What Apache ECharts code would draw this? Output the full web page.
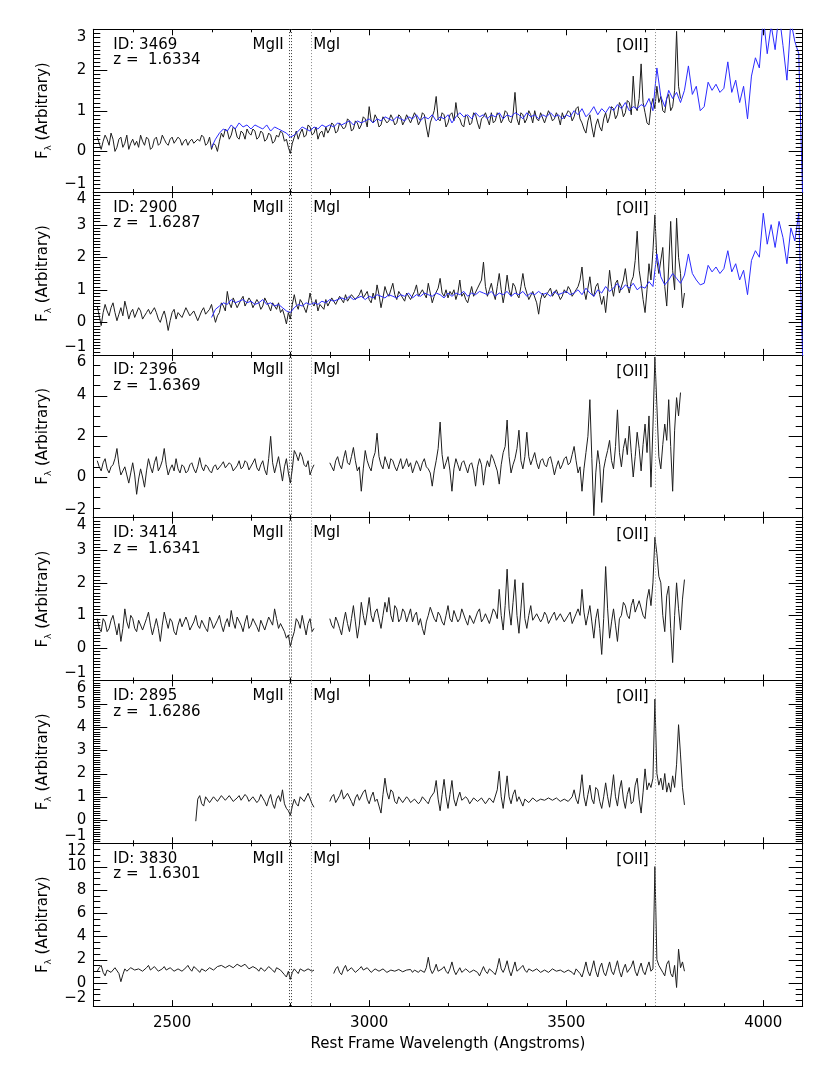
<!DOCTYPE html>
<html><head><meta charset="utf-8">
<script src="https://cdn.jsdelivr.net/npm/echarts@6/dist/echarts.min.js"></script>
<style>html,body{margin:0;padding:0;background:#fff}#c{width:830px;height:1066px}</style>
</head><body><div id="c"></div><script>
// ---------------- data ----------------
const BLACK_STEP = 5;    // sampling step of the galaxy spectra (Angstrom)
const BLUE_STEP = 10;    // sampling step of the template (Angstrom)
const panelIds = ['3469', '2900', '2396', '3414', '2895', '3830'];
const panelZ = ['1.6334', '1.6287', '1.6369', '1.6341', '1.6286', '1.6301'];
const yMin = [-1, -1, -2, -1, -1, -2];
const yMax = [3, 4, 6, 4, 6, 12];
const yStep = [1, 1, 2, 1, 1, 2];
const yMinorSplit = [10, 10, 4, 10, 10, 4];
const lineWl = [2796, 2803, 2852, 3727];  // MgII doublet, MgI, [OII]
const xTickLabels = [2500, 3000, 3500, 4000];

// Panel 1 (ID 3469)
const p1BlackStart = 2310;
const p1Black = [
0.35,0.2,0.05,0.25,0.4,0.3,0.15,0.45,0.3,0.0,0.1,0.3,0.35,0.1,0.2,0.4,0.05,0.2,0.3,0.15,
0.25,0.1,0.4,0.25,0.15,0.35,0.3,0.05,0.1,0.3,0.35,0.15,0.2,0.4,0.3,0.2,0.15,0.3,0.35,0.2,
0.2,0.35,0.3,0.15,0.25,0.3,0.15,0.25,0.3,0.2,0.2,0.3,0.25,0.4,0.35,0.15,0.2,0.35,0.05,0.2,
0.15,0.0,0.25,0.45,0.35,0.55,0.5,0.3,0.4,0.6,0.55,0.35,0.3,0.5,0.45,0.3,0.55,0.45,0.4,0.55,
0.5,0.3,0.35,0.5,0.45,0.25,0.3,0.45,0.4,0.2,0.25,0.4,0.35,0.5,0.45,0.25,0.3,0.1,-0.05,0.2,
0.35,0.5,0.3,0.45,0.55,0.35,0.4,0.65,0.6,0.4,0.45,0.6,0.3,0.45,0.5,0.35,0.6,0.45,0.55,0.7,
0.65,0.45,0.5,0.7,0.7,0.55,0.6,0.8,0.75,0.5,0.55,0.75,0.7,0.55,0.65,0.85,0.8,0.6,1.1,0.75,
0.7,0.9,0.8,0.6,0.65,0.85,0.85,0.7,0.75,0.9,0.8,0.65,0.7,0.9,0.85,0.65,0.75,0.9,0.8,0.7,
0.7,0.95,0.85,0.65,0.75,0.95,0.9,0.6,0.35,0.7,0.85,1.0,1.35,0.8,0.75,0.95,0.9,0.6,0.7,0.9,
0.95,0.75,1.2,0.85,0.8,0.65,0.6,0.9,0.85,0.65,0.7,0.95,0.9,0.7,0.55,0.8,0.85,0.95,0.8,0.65,
0.95,0.7,0.75,0.95,0.9,0.7,0.8,1.0,0.95,0.75,0.7,0.9,1.45,0.8,0.65,0.95,0.9,0.7,0.8,1.0,
0.9,0.7,1.0,0.8,0.75,0.95,0.95,0.7,0.85,1.0,0.9,0.75,0.8,0.95,0.85,0.65,0.95,0.8,0.8,1.0,
0.95,0.75,0.85,1.05,1.1,0.8,0.7,0.55,0.45,0.75,0.9,0.6,0.35,0.65,0.8,0.6,0.5,0.8,0.95,0.7,
0.85,1.1,1.05,0.8,0.9,1.2,1.1,0.85,0.95,1.25,1.2,0.9,1.85,1.1,1.0,1.3,2.15,1.2,0.95,0.7,
0.65,1.1,1.3,1.05,1.6,1.2,1.35,1.0,0.95,1.3,1.4,1.0,1.1,1.5,2.95,1.6,1.3];
const p1BlueStart = 2600;
const p1Blue = [
0.1,0.3,0.45,0.55,0.5,0.65,0.55,0.7,0.6,0.65,
0.55,0.65,0.6,0.55,0.65,0.5,0.6,0.55,0.5,0.45,
0.35,0.4,0.5,0.6,0.55,0.5,0.6,0.55,0.65,0.6,
0.65,0.6,0.7,0.65,0.7,0.75,0.65,0.75,0.7,0.75,
0.8,0.7,0.8,0.75,0.85,0.8,0.75,0.85,0.8,0.75,
0.85,0.8,0.9,0.75,0.85,0.8,0.9,0.75,0.85,0.8,
0.9,0.7,0.85,0.95,0.85,0.9,0.8,0.95,0.85,0.9,
0.8,0.9,0.85,0.95,0.8,0.9,0.85,0.95,0.9,0.8,
0.95,0.85,0.9,0.8,0.9,0.85,0.95,0.85,0.9,0.8,
0.9,0.85,1.0,0.9,1.05,0.85,0.95,1.1,0.9,1.05,
0.95,1.1,1.0,1.15,1.05,1.2,1.0,1.1,1.05,1.15,
1.1,1.3,1.0,2.05,1.35,1.1,1.5,1.3,1.45,1.2,
1.5,2.1,1.4,1.6,1.0,1.1,1.7,1.5,1.65,1.45,
1.55,2.2,1.45,1.75,1.2,1.6,0.8,1.85,2.3,2.05,
3.3,2.4,3.1,2.5,3.4,2.6,1.75,3.2,2.7,2.4,-1.2];

// Panel 2 (ID 2900)
const p2BlackStart = 2310;
const p2Black = [
0.5,0.2,-0.1,0.3,0.55,0.35,0.2,0.45,0.6,0.3,0.05,0.25,0.45,0.2,0.65,0.4,0.1,0.3,0.4,0.15,
0.15,0.45,0.35,0.1,0.05,0.3,0.4,0.25,0.2,0.45,0.3,0.1,0.0,0.2,0.35,0.1,-0.25,0.05,0.3,0.4,
0.1,0.3,0.35,0.15,0.2,0.45,0.4,0.2,0.15,0.35,0.3,0.05,0.1,0.35,0.45,0.25,0.2,0.4,0.55,0.25,
0.0,0.2,0.3,0.6,0.5,0.35,0.95,0.6,0.45,0.75,0.7,0.45,0.5,0.7,0.8,0.5,0.55,0.75,0.65,0.45,
0.45,0.7,0.6,0.4,0.5,0.75,0.7,0.5,0.35,0.6,0.55,0.4,0.6,0.3,0.4,0.2,-0.05,0.3,0.1,0.55,
0.85,0.55,0.4,0.7,0.6,0.45,0.3,0.55,0.9,0.6,0.5,0.7,0.35,0.55,0.6,0.4,0.7,0.5,0.55,0.75,
0.7,0.55,0.5,0.8,0.75,0.6,0.85,0.65,0.6,0.85,0.9,0.7,0.65,0.85,1.0,0.75,0.8,0.95,0.7,0.6,
0.9,0.7,1.15,0.85,0.45,0.75,1.1,0.9,0.8,1.0,1.2,0.85,0.7,0.95,0.95,0.75,0.65,0.9,0.85,0.7,
0.7,0.95,1.15,0.8,0.75,1.0,0.95,0.75,1.2,0.9,0.6,0.8,0.85,1.05,1.35,0.9,0.8,1.0,0.75,0.95,
0.85,1.0,0.7,0.9,1.3,0.8,0.9,0.7,0.6,0.85,1.1,0.8,0.75,1.05,1.0,1.3,1.85,1.1,0.8,1.0,
1.2,0.9,0.7,1.1,1.5,1.0,0.6,0.95,1.45,1.0,0.8,1.2,1.1,0.85,0.75,1.1,1.5,1.1,0.9,0.7,
0.7,0.95,1.0,0.6,0.25,0.7,0.9,0.75,0.8,0.95,1.05,0.8,0.85,1.0,0.95,0.7,0.8,1.0,0.9,1.1,
1.0,0.8,0.75,1.0,1.1,1.3,1.7,1.0,0.7,1.05,1.4,0.9,0.8,1.1,1.2,0.85,0.55,0.8,0.3,0.9,
1.6,1.1,0.8,1.2,1.3,0.9,0.95,1.3,1.65,1.15,0.9,1.25,1.4,1.9,2.8,1.6,1.2,0.7,0.3,1.0,
1.8,1.3,2.2,3.3,1.9,1.5,1.5,2.3,1.1,0.5,1.7,3.1,1.6,1.0,3.2,2.0,1.5,0.45,0.9];
const p2BlueStart = 2600;
const p2Blue = [
0.15,0.4,0.5,0.6,0.55,0.7,0.6,0.65,0.7,0.6,
0.65,0.55,0.6,0.7,0.55,0.6,0.5,0.55,0.45,0.35,
0.3,0.45,0.55,0.5,0.6,0.55,0.6,0.55,0.65,0.6,
0.7,0.65,0.7,0.75,0.7,0.8,0.7,0.75,0.8,0.7,
0.8,0.75,0.85,0.8,0.75,0.85,0.8,0.75,0.85,0.8,
0.9,0.75,0.85,0.8,0.9,0.85,0.8,0.9,0.85,0.75,
0.9,0.8,0.9,0.85,0.95,0.8,0.9,0.85,0.95,0.9,
0.85,0.95,0.8,0.9,0.85,0.95,0.8,0.9,0.85,0.95,
0.8,0.9,0.85,0.95,0.85,0.9,0.8,0.95,0.85,0.9,
0.95,0.85,0.9,1.0,0.85,1.05,0.9,0.8,1.0,0.9,
1.1,0.95,1.05,1.2,1.0,1.15,1.05,1.2,1.0,1.1,
1.05,1.25,1.1,2.1,1.4,1.15,1.3,1.5,1.35,1.2,
1.45,2.1,1.5,1.3,1.15,1.2,1.75,1.55,1.7,1.5,
1.65,2.2,1.55,1.8,1.3,1.6,0.85,1.9,2.2,2.0,
3.35,2.4,3.0,2.3,3.1,2.6,1.8,2.9,2.5,3.35,-1.2];

// Panel 3 (ID 2396)
const p3aStart = 2310;
const p3a = [
0.8,0.5,0.3,0.7,0.9,0.4,0.2,0.5,0.6,0.9,1.4,0.6,0.1,0.3,0.5,0.1,-0.3,0.2,0.7,0.1,
-0.85,-0.1,0.4,0.0,-0.5,0.3,0.9,0.5,0.2,0.7,1.0,0.3,0.5,0.8,1.4,0.6,0.1,0.4,0.6,0.3,
0.9,0.4,0.2,0.6,0.5,0.2,0.3,0.6,0.7,0.4,0.2,0.5,0.95,0.5,0.3,0.6,0.5,0.3,0.2,0.5,
0.6,0.35,0.3,0.6,0.75,0.45,0.4,0.7,0.6,0.3,0.3,0.55,0.8,0.4,0.5,0.8,0.7,0.35,0.4,0.7,
0.9,0.45,0.3,0.6,0.8,0.35,0.1,0.9,2.0,0.7,0.2,0.6,1.0,0.4,-0.2,0.5,0.9,0.2,-0.3,0.4,
1.3,1.1,0.8,1.2,1.0,0.6,0.5,0.8,0.1,0.4,0.6];
const p3bStart = 2900;
const p3b = [
0.7,0.5,0.3,0.8,1.0,0.6,0.4,0.9,1.3,0.7,0.6,1.0,1.45,0.8,0.3,0.5,-0.7,0.4,1.3,0.8,
0.5,0.3,0.9,1.2,2.15,1.0,0.6,0.4,1.0,0.7,0.4,0.9,0.8,0.5,0.3,0.6,0.9,0.4,0.6,0.9,
0.5,0.7,0.2,0.5,0.8,0.6,0.3,0.7,0.9,0.5,0.4,0.2,-0.45,0.3,0.8,1.4,2.7,1.1,0.4,0.7,
1.0,0.3,-0.7,0.4,0.9,0.6,0.3,0.7,0.8,0.5,0.2,0.6,0.7,0.3,-0.45,0.5,0.9,0.6,-0.4,0.4,
0.8,0.5,1.1,0.9,0.6,0.3,-0.35,0.6,1.2,1.5,2.8,1.0,0.2,0.6,0.9,1.4,2.3,0.8,0.4,1.0,
2.2,1.0,0.6,0.9,1.2,0.7,0.4,0.8,0.9,0.6,0.5,0.9,1.0,0.6,0.1,0.5,0.8,0.4,0.6,0.9,
1.0,0.6,0.7,1.1,1.5,0.8,0.2,0.5,-0.7,0.4,1.2,2.0,3.8,0.9,-1.9,0.2,1.3,0.6,-1.25,0.4,
0.9,1.3,1.8,0.8,0.4,1.5,3.3,1.2,0.5,1.4,1.9,1.1,2.5,1.2,0.0,1.0,2.2,1.4,0.3,1.6,
2.6,1.2,3.0,-0.5,2.5,5.9,3.5,1.0,0.4,1.6,2.6,1.8,3.8,1.5,-0.7,2.3,3.9,3.0,4.15];

// Panel 4 (ID 3414)
const p4aStart = 2310;
const p4a = [
0.9,0.6,0.5,0.9,0.8,0.5,0.6,0.85,1.0,0.7,0.4,0.75,0.2,0.6,1.2,0.8,0.6,1.0,0.9,0.6,
0.5,0.85,0.8,0.55,0.6,0.9,1.1,0.7,0.4,0.65,0.9,0.6,0.2,0.7,1.1,0.85,0.6,0.9,0.8,0.5,
0.4,0.7,0.9,0.65,0.6,0.95,0.8,0.55,0.5,0.8,1.0,0.7,0.6,0.85,0.9,0.6,0.5,0.95,0.8,0.6,
0.6,0.85,1.0,0.7,0.5,0.75,0.9,0.65,1.15,0.8,0.6,0.95,0.9,0.7,0.5,0.8,1.0,0.6,0.7,0.9,
0.9,0.65,0.5,0.85,0.8,0.55,0.6,0.95,0.9,0.7,1.2,0.9,0.6,0.75,0.8,0.5,0.3,0.4,0.05,0.3,
0.5,0.9,0.8,0.6,1.0,0.7,0.4,0.75,0.9,0.5,0.6];
const p4bStart = 2900;
const p4b = [
0.9,0.7,0.6,0.95,0.8,0.6,0.4,0.8,1.1,0.75,0.5,0.9,1.3,0.8,0.3,0.7,1.4,1.0,0.7,1.1,
1.55,1.0,0.8,1.1,1.2,0.9,0.6,1.0,1.4,1.1,1.55,1.0,0.8,1.3,1.2,0.8,0.9,1.2,1.1,0.8,
1.0,1.2,0.8,1.0,1.1,0.7,0.9,0.6,0.4,0.8,1.0,1.25,1.2,0.9,0.8,1.1,1.0,0.8,0.7,1.0,
1.3,0.9,0.8,1.15,1.1,0.8,0.9,1.2,1.2,0.85,0.7,1.0,1.0,0.75,0.8,1.1,1.2,0.8,0.9,1.05,
1.1,0.75,0.8,1.2,1.1,0.9,1.8,1.0,0.55,1.3,2.42,1.2,0.7,1.4,2.1,1.0,0.45,1.2,2.0,0.9,
0.6,1.0,1.3,0.85,0.8,1.05,1.1,0.8,0.9,1.1,1.0,0.75,0.8,1.0,1.1,0.85,0.9,1.05,1.0,0.8,
0.85,1.0,1.1,0.75,0.8,1.05,1.2,1.0,1.8,1.1,0.7,1.0,1.3,0.8,0.3,0.9,1.2,0.6,-0.2,0.9,
2.5,1.2,0.3,0.8,1.2,0.7,0.2,0.9,1.0,1.4,1.3,1.0,0.9,1.3,1.5,1.1,1.1,1.45,1.4,1.0,
0.9,1.5,1.8,1.3,2.0,3.4,2.9,2.2,2.0,1.0,0.5,1.6,1.9,0.6,-0.45,1.0,2.0,1.2,0.55,1.5,
2.1];

// Panel 5 (ID 2895)
const p5aStart = 2560;
const p5a = [
-0.05,0.9,1.05,0.7,0.6,1.0,0.95,0.75,0.7,1.0,1.05,0.8,0.8,1.05,1.1,0.85,0.85,1.05,1.0,0.8,
0.75,0.95,1.05,0.85,0.9,1.1,1.0,0.8,0.8,1.0,0.95,0.75,0.85,1.1,1.05,0.8,0.6,0.9,1.1,0.7,
0.5,0.9,1.05,0.8,1.3,0.7,0.5,0.4,0.2,0.6,0.9,0.7,0.6,1.0,1.05,0.8,0.8,1.15,1.1,0.7,
0.55];
const p5bStart = 2900;
const p5b = [
0.8,1.0,1.1,0.75,0.7,1.05,1.3,0.9,0.9,1.15,1.2,0.8,0.6,0.95,1.1,0.85,0.8,1.2,1.3,0.9,
0.7,1.0,1.2,0.8,0.9,0.6,0.3,1.1,1.8,1.2,0.9,1.3,1.2,0.8,0.7,1.0,1.0,0.75,0.8,1.0,
0.9,0.75,0.7,0.9,0.95,0.7,0.8,1.0,1.0,0.8,0.7,0.95,0.9,1.2,1.7,0.9,0.4,1.1,1.75,1.0,
0.5,1.1,1.7,0.9,0.6,0.95,1.2,0.85,0.8,1.0,0.9,0.7,0.75,0.95,1.0,0.8,0.8,0.95,0.9,0.7,
0.7,0.95,1.0,0.75,0.8,1.3,2.1,1.0,0.5,1.2,1.9,1.0,0.7,1.1,1.3,0.8,1.0,0.8,0.6,0.9,
0.9,0.75,0.8,0.95,1.0,0.8,0.75,0.9,0.95,0.85,0.8,0.95,1.0,0.85,0.85,0.95,0.9,0.8,0.8,0.9,
0.95,0.8,0.85,1.0,1.3,0.9,0.7,1.2,1.95,1.0,0.6,1.1,1.5,0.9,0.7,1.4,1.3,0.8,0.5,1.0,
1.6,1.0,0.55,1.2,1.95,1.0,0.6,1.3,1.7,0.9,0.5,1.1,1.4,0.7,0.8,1.5,1.8,0.9,0.3,1.2,
2.2,1.3,1.6,1.4,1.8,5.2,2.0,1.5,1.8,1.3,2.0,1.2,1.6,1.2,1.9,1.4,2.4,4.1,2.8,1.4,
0.65];

// Panel 6 (ID 3830)
const p6aStart = 2310;
const p6a = [
1.0,1.3,1.5,0.9,0.6,1.1,1.2,0.9,0.8,1.3,1.4,0.8,0.1,0.7,1.2,1.0,0.9,1.3,1.4,1.1,
1.0,1.2,1.3,1.0,0.9,1.3,1.5,1.1,1.1,1.4,1.3,1.0,0.9,1.2,1.4,1.1,1.0,1.3,1.2,1.0,
0.9,1.2,1.3,1.0,1.1,1.3,1.5,1.2,1.0,1.4,1.3,1.1,0.9,1.2,1.2,1.0,1.0,1.3,1.4,1.1,
1.1,1.4,1.3,1.5,1.6,1.3,1.2,1.5,1.5,1.3,1.3,1.6,1.7,1.4,1.3,1.6,1.5,1.2,1.2,1.4,
1.4,1.2,1.0,1.3,1.3,1.0,1.1,1.4,1.4,1.1,0.9,1.3,1.3,1.1,1.0,0.7,0.5,1.0,0.3,0.9,
1.2,1.0,0.8,1.2,1.3,1.0,1.0,1.2,1.2,1.0,1.1];
const p6bStart = 2910;
const p6b = [
0.8,1.2,1.4,0.9,0.7,1.2,1.5,1.0,0.9,1.3,1.3,0.9,0.8,1.2,1.4,1.1,1.0,1.3,1.2,0.9,
0.9,1.2,1.3,1.0,1.0,1.2,1.1,0.9,0.9,1.1,1.2,1.0,1.0,1.15,1.1,0.95,0.9,1.1,1.0,1.15,
0.9,1.1,1.0,0.9,1.1,1.0,0.9,1.3,2.2,1.2,0.8,1.1,1.6,1.0,0.9,1.2,1.4,1.0,0.8,1.2,
1.8,1.1,0.7,1.0,1.3,0.9,0.9,1.2,1.2,0.9,0.8,1.1,1.1,0.9,0.6,1.0,1.4,1.0,0.8,1.2,
1.2,0.9,0.7,1.3,2.1,1.2,0.9,1.3,1.9,1.1,0.6,1.2,1.8,1.0,1.0,1.3,1.5,1.1,0.9,1.2,
1.3,1.0,1.0,1.2,1.2,0.9,0.9,1.1,1.1,0.9,1.0,1.2,1.2,1.0,0.9,1.1,1.1,0.9,0.8,1.1,
1.1,0.9,0.7,1.2,1.3,0.8,0.5,1.1,1.8,1.0,0.6,1.2,1.9,1.0,0.5,1.3,1.7,0.9,0.6,1.2,
1.8,1.0,0.7,1.3,1.9,1.0,0.5,1.2,1.6,0.9,0.8,1.4,1.9,1.0,0.6,1.2,1.7,1.0,0.7,1.3,
1.8,1.0,1.2,10.0,2.0,1.5,1.5,0.9,0.6,1.6,1.9,0.8,0.5,1.5,-0.4,2.9,1.3,1.8,1.0];

// ---------------- build ----------------
function seg(start, step, vals) { return vals.map((v, i) => [start + i * step, v]); }
function joinSegs(a, b) { return a.concat([[b[0][0] - BLACK_STEP, null]], b); }

const panels = [
  { black: seg(p1BlackStart, BLACK_STEP, p1Black), blue: seg(p1BlueStart, BLUE_STEP, p1Blue) },
  { black: seg(p2BlackStart, BLACK_STEP, p2Black), blue: seg(p2BlueStart, BLUE_STEP, p2Blue) },
  { black: joinSegs(seg(p3aStart, BLACK_STEP, p3a), seg(p3bStart, BLACK_STEP, p3b)) },
  { black: joinSegs(seg(p4aStart, BLACK_STEP, p4a), seg(p4bStart, BLACK_STEP, p4b)) },
  { black: joinSegs(seg(p5aStart, BLACK_STEP, p5a), seg(p5bStart, BLACK_STEP, p5b)) },
  { black: joinSegs(seg(p6aStart, BLACK_STEP, p6a), seg(p6bStart, BLACK_STEP, p6b)) }
];

const FONT = 'DejaVu Sans';
const W = 830;
const X_MIN = 2300, X_MAX = 4100, X_MINOR = 100;
const GRID_LEFT = 93.3, GRID_RIGHT = 27.3, GRID_TOP = 29.3, PANEL_H = 162.8;
const PLOT_W = W - GRID_LEFT - GRID_RIGHT;
const BLACK = '#1e1e1e', BLUE = '#2b2bff';
const xPix = w => GRID_LEFT + (w - X_MIN) / (X_MAX - X_MIN) * PLOT_W;

const grids = [], xAxes = [], yAxes = [], series = [], titles = [];
const yFmt = v => (v < 0 ? '\u2212' + (-v) : String(v));
const tStyle = { fontFamily: FONT, fontSize: 15, fontWeight: 'normal', color: '#000' };

panels.forEach((p, i) => {
  const isLast = i === panels.length - 1;
  const top = GRID_TOP + i * PANEL_H;
  grids.push({ left: GRID_LEFT, right: GRID_RIGHT, top: top, height: PANEL_H });
  const xb = { type: 'value', gridIndex: i, min: X_MIN, max: X_MAX, interval: X_MINOR,
    splitLine: { show: false }, axisTick: { show: false },
    axisLine: { show: true, onZero: false, lineStyle: { color: '#000', width: 1 } } };
  const xMain = Object.assign({}, xb, { position: 'bottom',
    axisLabel: { show: isLast, formatter: v => (xTickLabels.includes(v) ? String(v) : ''),
      fontFamily: FONT, fontSize: 15, color: '#000', margin: 10 } });
  if (isLast) {
    xMain.name = 'Rest Frame Wavelength (Angstroms)';
    xMain.nameLocation = 'middle';
    xMain.nameGap = 31;
    xMain.nameTextStyle = { fontFamily: FONT, fontSize: 15, color: '#000' };
  }
  xAxes.push(xMain);
  xAxes.push(Object.assign({}, xb, { position: 'top', axisLabel: { show: false } }));

  const yb = { type: 'value', gridIndex: i, min: yMin[i], max: yMax[i], interval: yStep[i],
    splitLine: { show: false }, axisTick: { show: false }, minorTick: { show: false },
    axisLine: { show: true, onZero: false, lineStyle: { color: '#000', width: 1 } } };
  yAxes.push(Object.assign({}, yb, { position: 'left',
    axisLabel: { formatter: yFmt, fontFamily: FONT, fontSize: 15, color: '#000', margin: 7,
      verticalAlignMinLabel: 'bottom', verticalAlignMaxLabel: 'top' },
    name: '{f|F}{s|\u03bb}{f| (Arbitrary)}', nameLocation: 'middle', nameGap: 36,
    nameTextStyle: { fontFamily: FONT, fontSize: 15, color: '#000',
      rich: { f: { fontFamily: FONT, fontSize: 15, color: '#000', lineHeight: 20 },
              s: { fontFamily: FONT, fontSize: 9, color: '#000', lineHeight: 10, verticalAlign: 'bottom' } } } }));
  yAxes.push(Object.assign({}, yb, { position: 'right', axisLabel: { show: false } }));

  series.push({ type: 'line', xAxisIndex: 2 * i, yAxisIndex: 2 * i, data: p.black,
    showSymbol: false, symbol: 'none', connectNulls: false,
    lineStyle: { color: BLACK, width: 1 }, itemStyle: { color: BLACK },
    markLine: { silent: true, symbol: ['none', 'none'], label: { show: false },
      data: lineWl.map((w, k) => ({ xAxis: w,
        lineStyle: { type: [1, 2], color: k < 2 ? '#333' : '#888', width: 1 } })) } });
  if (p.blue) {
    series.push({ type: 'line', xAxisIndex: 2 * i, yAxisIndex: 2 * i, data: p.blue,
      showSymbol: false, symbol: 'none',
      lineStyle: { color: BLUE, width: 1 }, itemStyle: { color: BLUE } });
  }

  // panel annotations (title components, placed on the same wavelength scale)
  titles.push({ text: 'ID: ' + panelIds[i], left: GRID_LEFT + 20, top: top + 8.2, padding: 0, textStyle: tStyle });
  titles.push({ text: 'z =  ' + panelZ[i], left: GRID_LEFT + 20, top: top + 23.7, padding: 0, textStyle: tStyle });
  titles.push({ text: 'MgII', right: W - (xPix(lineWl[0]) - 5), top: top + 8.2, padding: 0, textStyle: tStyle });
  titles.push({ text: 'MgI', left: xPix(lineWl[2]) + 2.5, top: top + 8.2, padding: 0, textStyle: tStyle });
  titles.push({ text: '[OII]', right: W - (xPix(lineWl[3]) - 7), top: top + 9.5, padding: 0, textStyle: tStyle });
});

const chart = echarts.init(document.getElementById('c'));
chart.setOption({ animation: false, title: titles, grid: grids, xAxis: xAxes, yAxis: yAxes, series: series });

// IDL-style inward tick marks on all four sides, positioned through the axes' own scales
const tickEls = [];
const crisp = v => Math.round(v) + 0.5;
function tick(x1, y1, x2, y2) {
  tickEls.push({ type: 'line', silent: true, z: 50,
    shape: { x1: x1, y1: y1, x2: x2, y2: y2 }, style: { stroke: '#000', lineWidth: 1 } });
}
panels.forEach((p, i) => {
  const px = w => chart.convertToPixel({ xAxisIndex: 2 * i }, w);
  const py = v => chart.convertToPixel({ yAxisIndex: 2 * i }, v);
  const yT = py(yMax[i]), yB = py(yMin[i]);
  const xL = px(X_MIN), xR = px(X_MAX);
  for (let w = X_MIN + X_MINOR; w < X_MAX; w += X_MINOR) {
    const x = crisp(px(w));
    const len = xTickLabels.includes(w) ? 6 : 3;
    tick(x, yB, x, yB - len);
    tick(x, yT, x, yT + len);
  }
  const nMajor = Math.round((yMax[i] - yMin[i]) / yStep[i]);
  for (let k = 0; k <= nMajor; k++) {
    const v = yMin[i] + k * yStep[i];
    if (k > 0 && k < nMajor) {
      const y = crisp(py(v));
      tick(xL, y, xL + 14, y);
      tick(xR, y, xR - 14, y);
    }
    if (k < nMajor) {
      for (let m = 1; m < yMinorSplit[i]; m++) {
        const ym = crisp(py(v + m * yStep[i] / yMinorSplit[i]));
        tick(xL, ym, xL + 7, ym);
        tick(xR, ym, xR - 7, ym);
      }
    }
  }
});
chart.setOption({ graphic: tickEls });
</script></body></html>
